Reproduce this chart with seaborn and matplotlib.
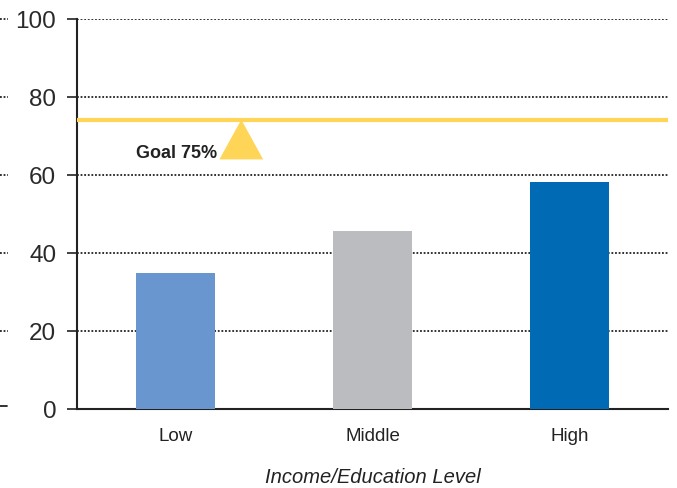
import matplotlib
matplotlib.use("Agg")
import matplotlib.pyplot as plt
import seaborn as sns
import pandas as pd
from matplotlib.patches import Polygon
from matplotlib.lines import Line2D

categories = ["Low", "Middle", "High"]
values = [34.9, 45.6, 58.2]
colors = ["#6A96CF", "#BBBCC0", "#006AB5"]
goal_value = 74.2
goal_label = "Goal 75%"
y_ticks = [0, 20, 40, 60, 80, 100]
x_label = "Income/Education Level"

sns.set_theme(style="white")
plt.rcParams["font.family"] = ["Liberation Sans", "DejaVu Sans"]

fig = plt.figure(figsize=(6.77, 4.88), dpi=100)
ax = fig.add_axes([77/677, 1-409/488, (668-77)/677, (409-19)/488])

df = pd.DataFrame({"cat": categories, "val": values})
sns.barplot(data=df, x="cat", y="val", hue="cat", palette=colors, width=0.405,
            legend=False, ax=ax, saturation=1, zorder=3, linewidth=0)

ax.set_xlim(-0.5, 2.5)
ax.set_ylim(0, 100)
ax.set_yticks(y_ticks)
ax.set_yticklabels([str(t) for t in y_ticks], fontsize=17.5, color="#2a2a2a")
ax.tick_params(axis="y", length=7, width=1.2, color="#222222", pad=8, left=True)
ax.tick_params(axis="x", length=0, pad=14, labelsize=13.5, labelcolor="#222222")
for t in y_ticks[1:]:
    ax.axhline(t, color="#222222", lw=1.3, ls=(0, (1, 1)), zorder=1)

for s in ["top", "right"]:
    ax.spines[s].set_visible(False)
for s in ["left", "bottom"]:
    ax.spines[s].set_color("#222222")
    ax.spines[s].set_linewidth(1.5)

ax.axhline(goal_value, color="#FFD558", lw=3, zorder=4)
tri = Polygon([[0.334, goal_value], [0.223, 64.0], [0.445, 64.0]], closed=True,
              facecolor="#FFD558", edgecolor="none", zorder=4)
ax.add_patch(tri)
ax.text(0.21, 65.4, goal_label, ha="right", va="center", fontsize=13,
        fontweight="bold", color="#222222")

ax.set_xlabel(x_label, fontsize=14.5, style="italic", color="#222222", labelpad=16)
ax.set_ylabel("")

# left-edge fragments from neighbouring panel
for yp in [19, 97, 175, 253, 331]:
    fig.add_artist(Line2D([0, 8/677], [1-yp/488]*2, color="#222222", lw=1.3,
                          ls=(0, (1, 1)), transform=fig.transFigure))
fig.add_artist(Line2D([0, 7/677], [1-405.5/488]*2, color="#222222", lw=1.3,
                      transform=fig.transFigure))

fig.savefig("out.png", dpi=100)
